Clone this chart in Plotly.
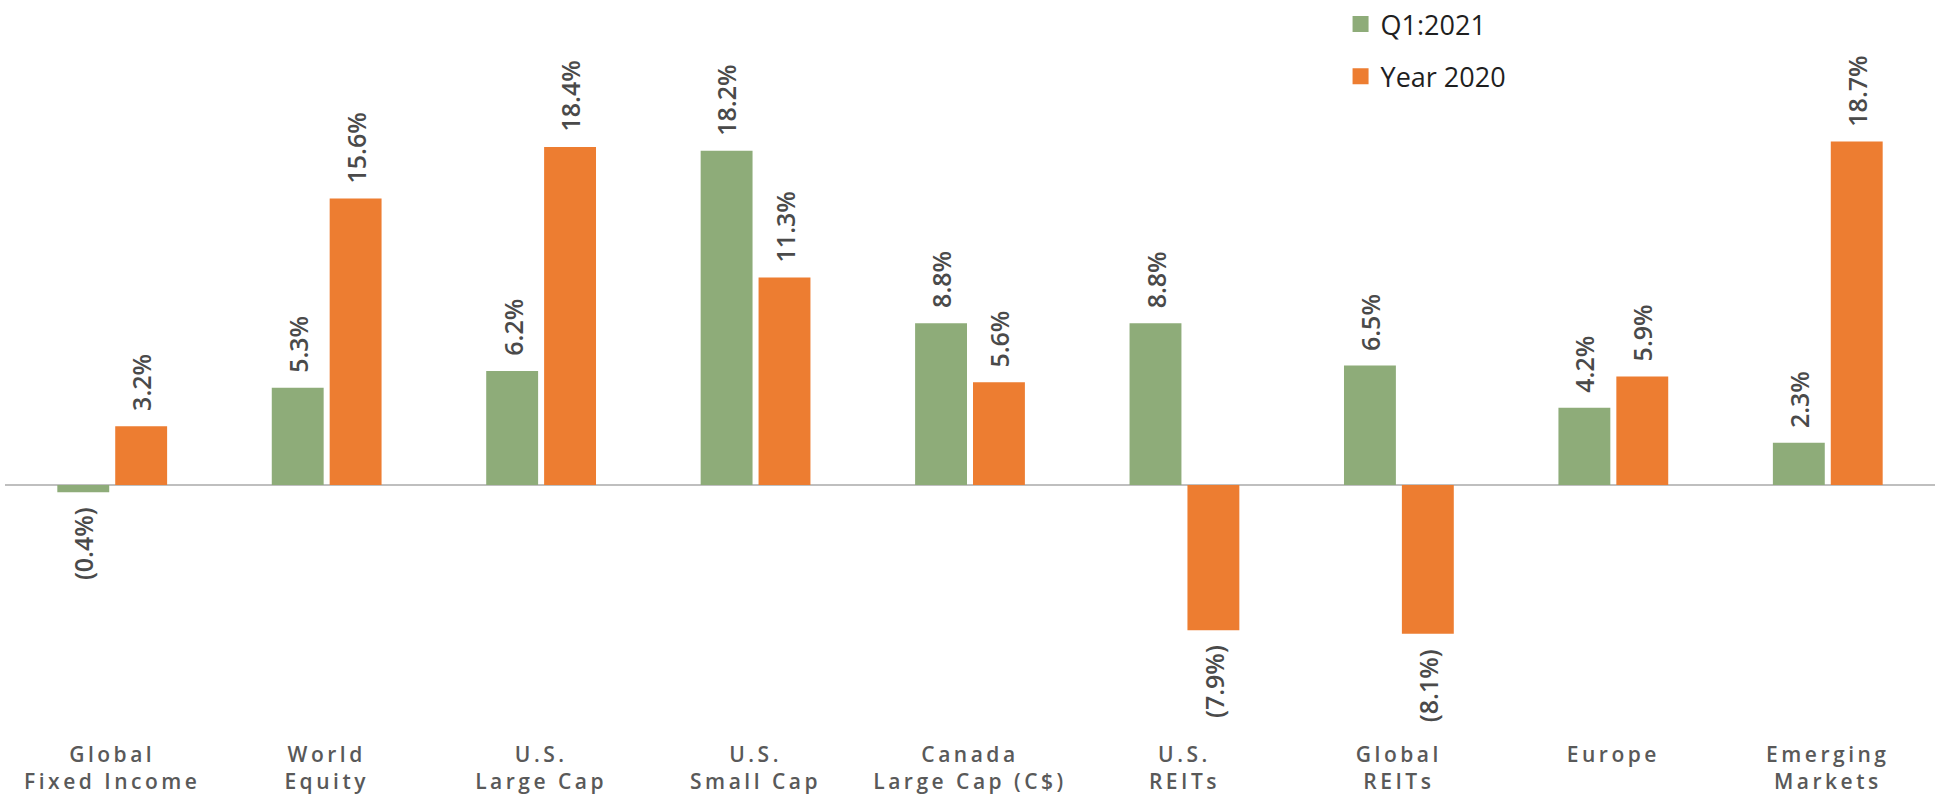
import plotly.graph_objects as go

# Asset class returns (%)
categories = [
    "Global<br>Fixed Income",
    "World<br>Equity",
    "U.S.<br>Large Cap",
    "U.S.<br>Small Cap",
    "Canada<br>Large Cap (C$)",
    "U.S.<br>REITs",
    "Global<br>REITs",
    "Europe",
    "Emerging<br>Markets",
]
q1_2021 = [-0.4, 5.3, 6.2, 18.2, 8.8, 8.8, 6.5, 4.2, 2.3]
year_2020 = [3.2, 15.6, 18.4, 11.3, 5.6, -7.9, -8.1, 5.9, 18.7]

GREEN = "#8EAC79"
ORANGE = "#ED7D31"
LABEL_GRAY = "#595959"
VALUE_GRAY = "#4A4A4A"

BAR_W = 0.242
positions = list(range(len(categories)))


def fmt(v):
    return f"({abs(v):.1f}%)" if v < 0 else f"{v:.1f}%"


fig = go.Figure()
series = [("Q1:2021", q1_2021, GREEN, -0.256), ("Year 2020", year_2020, ORANGE, 0.014)]
for name, vals, color, off in series:
    fig.add_trace(go.Bar(
        name=name, x=positions, y=vals, width=BAR_W, offset=off,
        marker=dict(color=color, line=dict(width=0)),
        showlegend=False,
    ))
    # legend entry with a larger square swatch
    fig.add_trace(go.Scatter(
        name=name, x=[None], y=[None], mode="markers",
        marker=dict(symbol="square", size=17, color=color),
        legendgroup=name,
    ))
    # rotated value labels beside each bar end
    for xp, v in zip(positions, vals):
        fig.add_annotation(
            x=xp + off + BAR_W / 2, y=v, text=fmt(v), textangle=-90,
            showarrow=False, xanchor="center",
            yanchor="bottom" if v >= 0 else "top",
            yshift=13 if v >= 0 else -13,
            font=dict(family="Open Sans", size=25, color=VALUE_GRAY, weight=600),
        )

fig.update_layout(
    width=1937, height=799,
    margin=dict(l=5, r=2, t=0, b=59),
    plot_bgcolor="white", paper_bgcolor="white",
    barmode="overlay",
    showlegend=True,
    legend=dict(
        x=0.692, y=1.0, xanchor="left", yanchor="top",
        font=dict(family="Open Sans", size=27, color="#1F1F1F"),
        tracegroupgap=14, bgcolor="rgba(0,0,0,0)",
        itemwidth=30,
    ),
    xaxis=dict(
        range=[-0.5, len(categories) - 0.5],
        tickmode="array", tickvals=positions, ticktext=categories,
        showgrid=False, zeroline=False, showline=False, ticks="",
        tickfont=dict(family="Open Sans", size=21, color=LABEL_GRAY, weight=600),
    ),
    yaxis=dict(
        range=[-13.88, 26.4],
        showgrid=False, showticklabels=False, ticks="",
        zeroline=True, zerolinecolor="#BFBFBF", zerolinewidth=2,
    ),
)

# widen the tracking of the category labels
spacing_js = """
var gd = document.getElementById('{plot_id}');
function track() {
  gd.querySelectorAll('.xtick text').forEach(function (t) {
    t.style.letterSpacing = '3.5px';
  });
}
track();
gd.on('plotly_afterplot', track);
"""

fig.write_html("out.html", post_script=spacing_js)
